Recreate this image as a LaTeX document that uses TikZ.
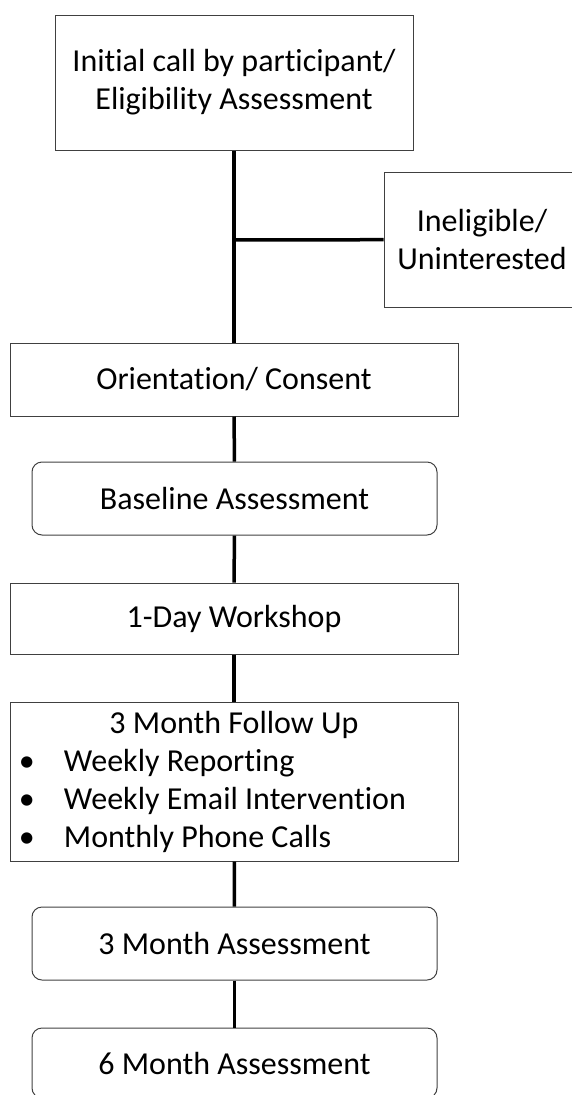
\documentclass[tikz,border=0pt]{standalone}
\usepackage{fontspec}
\setmainfont{Carlito}[Ligatures=NoCommon]
\usepackage{tikz}
\newcommand{\bul}{\makebox[45pt][l]{\textbullet}}

\begin{document}
\begin{tikzpicture}[x=1pt,y=1pt]
\useasboundingbox (0,0) rectangle (572,-1095);
\begin{scope}[every node/.style={draw=black!75,line width=1pt,align=center,inner sep=0pt,
              font=\fontsize{32}{38}\selectfont}]
    \node[minimum width=358,minimum height=135] (init) at (234,-82.5) {Initial call by participant/\\Eligibility Assessment};
    \node[minimum width=196,minimum height=135] (inelig) at (482,-239.5) {Ineligible/\\Uninterested};
    \node[minimum width=448,minimum height=73] (orient) at (234,-379.5) {Orientation/ Consent};
    \node[minimum width=405,minimum height=73,rounded corners=10pt] (base) at (234.5,-498.5) {Baseline Assessment};
    \node[minimum width=448,minimum height=71] (workshop) at (234,-618.5) {1-Day Workshop};
    \node[minimum width=448,minimum height=159,align=left] (follow) at (234,-781.5) {\makebox[430pt]{3 Month Follow Up}\\
    \bul Weekly Reporting\\
    \bul Weekly Email Intervention\\
    \bul Monthly Phone Calls};
    \node[minimum width=405,minimum height=73,rounded corners=10pt] (m3) at (234.5,-943.5) {3 Month Assessment};
    \node[minimum width=405,minimum height=70,rounded corners=10pt] (m6) at (234.5,-1063) {6 Month Assessment};
\end{scope}
\coordinate (split) at (234,-240);
\begin{scope}[every edge/.style={draw=black,line width=3.5pt}]
    \path (init) edge (orient);
    \path (split) edge (inelig);
    \path (orient) edge (base);
    \path (base) edge (workshop);
    \path (workshop) edge (follow);
    \path (follow) edge (m3);
    \path (m3) edge (m6);
\end{scope}
\end{tikzpicture}
\end{document}
